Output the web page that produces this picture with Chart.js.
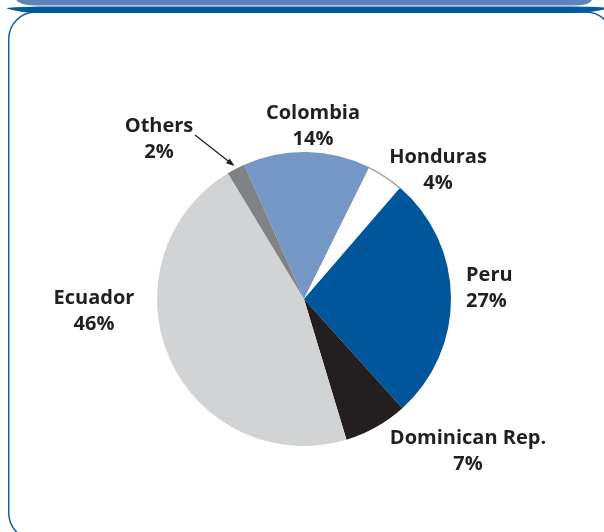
<!DOCTYPE html>
<html>
<head>
<meta charset="utf-8">
<title>Origin of imports</title>
<script src="https://cdn.jsdelivr.net/npm/chart.js@4.4.1/dist/chart.umd.min.js"></script>
<style>
  html, body { margin: 0; padding: 0; background: #ffffff; }
  #wrap { width: 604px; height: 532px; position: relative; }
</style>
</head>
<body>
<div id="wrap"><canvas id="pie" width="604" height="532"></canvas></div>
<script>
"use strict";

// slice data, clockwise from Colombia
const countries = ["Colombia", "Honduras", "Peru", "Dominican Rep.", "Ecuador", "Others"];
const shares = [14, 4, 27, 7, 46, 2];
const sliceColors = ["#7597c5", "#ffffff", "#00569b", "#231f20", "#d1d3d4", "#808285"];

// where each label block is centred (x, y of first line) and its alignment
const labelAnchors = [
  [313, 113, "center"],
  [438, 157, "center"],
  [466, 275, "left"],
  [468, 438, "center"],
  [94, 298, "center"],
  [159, 126, "center"]
];

const FONT = "bold 20px 'Open Sans', 'DejaVu Sans', sans-serif";
const LINE_H = 26;

// blue banner strip and rounded frame behind the chart
const framePlugin = {
  id: "frame",
  beforeDraw(chart) {
    const ctx = chart.ctx;
    ctx.save();
    ctx.fillStyle = "#ffffff";
    ctx.fillRect(0, 0, chart.width, chart.height);

    // rounded frame
    ctx.strokeStyle = "#1b5e9f";
    ctx.lineWidth = 1.5;
    ctx.beginPath();
    ctx.roundRect(8.75, 12, 604, 528, 27);
    ctx.stroke();

    // light band on top
    ctx.fillStyle = "#5d84b9";
    ctx.beginPath();
    ctx.moveTo(16, 0);
    ctx.lineTo(592, 0);
    ctx.quadraticCurveTo(590, 5, 576, 5.5);
    ctx.lineTo(34, 5.5);
    ctx.quadraticCurveTo(20, 5, 16, 0);
    ctx.fill();

    // dark band with tapered ends
    ctx.fillStyle = "#005a9c";
    ctx.beginPath();
    ctx.moveTo(7, 8);
    ctx.quadraticCurveTo(22, 6.5, 40, 6.5);
    ctx.lineTo(570, 6.5);
    ctx.quadraticCurveTo(590, 6.5, 604, 7.5);
    ctx.lineTo(604, 9.5);
    ctx.quadraticCurveTo(590, 13, 570, 13);
    ctx.lineTo(40, 13);
    ctx.quadraticCurveTo(22, 13, 7, 8.5);
    ctx.fill();
    ctx.restore();
  }
};

// labels, the Others pointer and the grey rim on the white slice
const labelPlugin = {
  id: "sliceLabels",
  afterDatasetsDraw(chart) {
    const ctx = chart.ctx;
    const arcs = chart.getDatasetMeta(0).data;
    ctx.save();

    // grey rim on Honduras
    const h = arcs[1];
    ctx.strokeStyle = "#a7a9ac";
    ctx.lineWidth = 1.5;
    ctx.beginPath();
    ctx.arc(h.x, h.y, h.outerRadius - 0.5, h.startAngle, h.endAngle);
    ctx.stroke();

    // pointer to Others
    const o = arcs[5];
    const mid = (o.startAngle + o.endAngle) / 2;
    const tipX = o.x + Math.cos(mid) * (o.outerRadius + 3);
    const tipY = o.y + Math.sin(mid) * (o.outerRadius + 3);
    const tailX = 195, tailY = 135;
    const ang = Math.atan2(tipY - tailY, tipX - tailX);
    ctx.strokeStyle = "#231f20";
    ctx.fillStyle = "#231f20";
    ctx.lineWidth = 1.3;
    ctx.beginPath();
    ctx.moveTo(tailX, tailY);
    ctx.lineTo(tipX - Math.cos(ang) * 6, tipY - Math.sin(ang) * 6);
    ctx.stroke();
    ctx.beginPath();
    ctx.moveTo(tipX, tipY);
    ctx.lineTo(tipX - Math.cos(ang - 0.35) * 9, tipY - Math.sin(ang - 0.35) * 9);
    ctx.lineTo(tipX - Math.cos(ang + 0.35) * 9, tipY - Math.sin(ang + 0.35) * 9);
    ctx.closePath();
    ctx.fill();

    // text
    ctx.font = FONT;
    ctx.fillStyle = "#231f20";
    ctx.textBaseline = "middle";
    countries.forEach((name, i) => {
      const [x, y, align] = labelAnchors[i];
      ctx.textAlign = align;
      ctx.fillText(name, x, y);
      ctx.fillText(shares[i] + "%", x, y + LINE_H);
    });
    ctx.restore();
  }
};

new Chart(document.getElementById("pie").getContext("2d"), {
  type: "pie",
  data: {
    labels: countries,
    datasets: [
      {
        data: shares,
        backgroundColor: sliceColors,
        borderWidth: 0
      }
    ]
  },
  options: {
    responsive: false,
    animation: false,
    rotation: -24,
    layout: { padding: { left: 157, right: 153, top: 152, bottom: 86 } },
    plugins: {
      legend: { display: false },
      tooltip: { enabled: false }
    }
  },
  plugins: [framePlugin, labelPlugin]
});
</script>
</body>
</html>
